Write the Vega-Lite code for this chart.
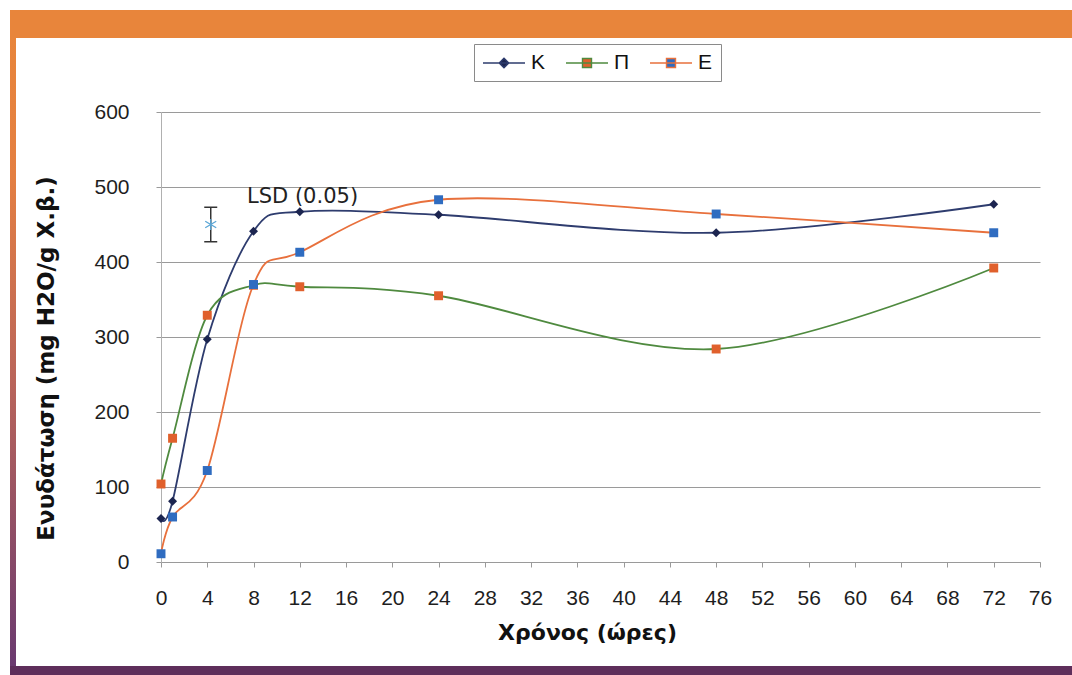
{
  "$schema": "https://vega.github.io/schema/vega-lite/v6.json",
  "background": "white",
  "padding": {"left": 10, "top": 10, "right": 0, "bottom": 0},
  "datasets": {
    "curves": [
      {"series": "K", "t": 0, "v": 58},
      {"series": "K", "t": 1, "v": 81},
      {"series": "K", "t": 4, "v": 297},
      {"series": "K", "t": 8, "v": 441},
      {"series": "K", "t": 12, "v": 467},
      {"series": "K", "t": 24, "v": 463},
      {"series": "K", "t": 48, "v": 439},
      {"series": "K", "t": 72, "v": 477},
      {"series": "Π", "t": 0, "v": 104},
      {"series": "Π", "t": 1, "v": 165},
      {"series": "Π", "t": 4, "v": 329},
      {"series": "Π", "t": 8, "v": 369},
      {"series": "Π", "t": 12, "v": 367},
      {"series": "Π", "t": 24, "v": 355},
      {"series": "Π", "t": 48, "v": 284},
      {"series": "Π", "t": 72, "v": 392},
      {"series": "E", "t": 0, "v": 11},
      {"series": "E", "t": 1, "v": 60},
      {"series": "E", "t": 4, "v": 122},
      {"series": "E", "t": 8, "v": 370},
      {"series": "E", "t": 12, "v": 413},
      {"series": "E", "t": 24, "v": 483},
      {"series": "E", "t": 48, "v": 464},
      {"series": "E", "t": 72, "v": 439}
    ],
    "lsd": [
      {"t": 4.3, "lo": 427, "hi": 473, "mid": 450}
    ],
    "notes": [
      {"t": 7.44, "v": 487, "label": "LSD (0.05)"}
    ]
  },
  "spacing": 0,
  "vconcat": [
    {
      "width": 1062,
      "height": 28,
      "data": {"values": []},
      "mark": "text",
      "encoding": {},
      "view": {"fill": "#E8853B", "stroke": null}
    },
    {
      "spacing": 19,
      "hconcat": [
        {
          "width": 6,
          "height": 628,
          "data": {"values": []},
          "mark": "text",
          "encoding": {},
          "view": {
            "stroke": null,
            "fill": {
              "gradient": "linear",
              "x1": 0, "y1": 0, "x2": 0, "y2": 1,
              "stops": [
                {"offset": 0, "color": "#E8853B"},
                {"offset": 0.22, "color": "#E47F42"},
                {"offset": 0.55, "color": "#B9645A"},
                {"offset": 1, "color": "#6A3A70"}
              ]
            }
          }
        },
        {
          "width": 879,
          "height": 524,
          "view": {"stroke": null},
          "layer": [
            {
              "data": {"name": "curves"},
              "mark": {"type": "line", "interpolate": "cardinal", "strokeWidth": 1.8},
              "encoding": {
                "x": {
                  "field": "t", "type": "quantitative",
                  "scale": {"domain": [0, 76], "nice": false, "zero": false},
                  "axis": {
                    "values": [0, 4, 8, 12, 16, 20, 24, 28, 32, 36, 40, 44, 48, 52, 56, 60, 64, 68, 72, 76],
                    "grid": false,
                    "domainColor": "#9a9a9a",
                    "tickColor": "#9a9a9a",
                    "tickSize": 5,
                    "labelFont": "Liberation Sans",
                    "labelFontSize": 21,
                    "labelColor": "#1e1e1e",
                    "labelPadding": 20,
                    "labelFlush": false,
                    "labelOverlap": false,
                    "title": "Χρόνος (ώρες)",
                    "titleFont": "DejaVu Sans",
                    "titleFontWeight": "bold",
                    "titleFontSize": 22,
                    "titleColor": "#111111",
                    "titleX": 426,
                    "titlePadding": 14
                  }
                },
                "y": {
                  "field": "v", "type": "quantitative",
                  "scale": {"domain": [0, 600], "nice": false, "range": [524, 74]},
                  "axis": {
                    "values": [0, 100, 200, 300, 400, 500, 600],
                    "grid": true,
                    "gridColor": "#9a9a9a",
                    "gridWidth": 1,
                    "domainColor": "#b0b0b0",
                    "tickColor": "#9a9a9a",
                    "tickSize": 5,
                    "labelFont": "Liberation Sans",
                    "labelFontSize": 21,
                    "labelColor": "#1e1e1e",
                    "labelPadding": 27,
                    "title": "Ενυδάτωση (mg H2O/g Χ.β.)",
                    "titleFont": "DejaVu Sans",
                    "titleFontWeight": "bold",
                    "titleFontSize": 23,
                    "titleColor": "#111111",
                    "titleX": -115,
                    "titleY": 320,
                    "titleAlign": "center",
                    "titleBaseline": "middle"
                  }
                },
                "color": {
                  "field": "series", "type": "nominal",
                  "scale": {"domain": ["K", "Π", "E"], "range": ["#2E3C6E", "#4F8A3F", "#E8703C"]},
                  "legend": {
                    "orient": "none",
                    "legendX": 464,
                    "legendY": 34,
                    "direction": "horizontal",
                    "title": null,
                    "fillColor": "white",
                    "strokeColor": "#8a8a8a",
                    "padding": 8,
                    "symbolSize": 400,
                    "symbolOffset": 11,
                    "labelOffset": 16,
                    "columnPadding": 17,
                    "symbolStrokeWidth": 1.4,
                    "labelFont": "Liberation Sans",
                    "labelFontSize": 21,
                    "labelColor": "#111111",
                    "encode": {
                      "symbols": {
                        "update": {
                          "shape": {"signal": "datum.value === 'K' ? 'M-2.1,0H2.1M0,-0.48L0.48,0L0,0.48L-0.48,0Z' : 'M-2.1,0H2.1M-0.45,-0.45H0.45V0.45H-0.45Z'"},
                          "fill": {"signal": "datum.value === 'K' ? '#1C2550' : datum.value === 'Π' ? '#E0602C' : '#2F6CC0'"}
                        }
                      }
                    }
                  }
                }
              }
            },
            {
              "data": {"name": "curves"},
              "mark": {"type": "point", "filled": true, "size": 80, "opacity": 1},
              "encoding": {
                "x": {"field": "t", "type": "quantitative"},
                "y": {"field": "v", "type": "quantitative"},
                "fill": {
                  "field": "series", "type": "nominal",
                  "scale": {"domain": ["K", "Π", "E"], "range": ["#1C2550", "#E0602C", "#2F6CC0"]},
                  "legend": null
                },
                "shape": {
                  "condition": {"test": "datum.series === 'K'", "value": "diamond"},
                  "value": "square"
                }
              }
            },
            {
              "data": {"name": "lsd"},
              "mark": {"type": "rule", "color": "#333333", "strokeWidth": 1.5},
              "encoding": {
                "x": {"field": "t", "type": "quantitative"},
                "y": {"field": "lo", "type": "quantitative"},
                "y2": {"field": "hi"}
              }
            },
            {
              "data": {"name": "lsd"},
              "mark": {"type": "point", "shape": "M-1,0H1", "size": 169, "stroke": "#333333", "strokeWidth": 1.5, "filled": false, "opacity": 1},
              "encoding": {
                "x": {"field": "t", "type": "quantitative"},
                "y": {"field": "lo", "type": "quantitative"}
              }
            },
            {
              "data": {"name": "lsd"},
              "mark": {"type": "point", "shape": "M-1,0H1", "size": 169, "stroke": "#333333", "strokeWidth": 1.5, "filled": false, "opacity": 1},
              "encoding": {
                "x": {"field": "t", "type": "quantitative"},
                "y": {"field": "hi", "type": "quantitative"}
              }
            },
            {
              "data": {"name": "lsd"},
              "mark": {"type": "point", "shape": "M-1,-0.6L1,0.6M-1,0.6L1,-0.6M0,-1V1", "size": 121, "stroke": "#5AA6D6", "strokeWidth": 1.3, "filled": false, "opacity": 1},
              "encoding": {
                "x": {"field": "t", "type": "quantitative"},
                "y": {"field": "mid", "type": "quantitative"}
              }
            },
            {
              "data": {"name": "notes"},
              "mark": {"type": "text", "align": "left", "baseline": "middle", "font": "DejaVu Sans", "fontSize": 21, "color": "#222222"},
              "encoding": {
                "x": {"field": "t", "type": "quantitative"},
                "y": {"field": "v", "type": "quantitative"},
                "text": {"field": "label"}
              }
            }
          ]
        }
      ]
    },
    {
      "width": 1062,
      "height": 9,
      "data": {"values": []},
      "mark": "text",
      "encoding": {},
      "view": {"fill": "#5E2E5B", "stroke": null}
    }
  ]
}
